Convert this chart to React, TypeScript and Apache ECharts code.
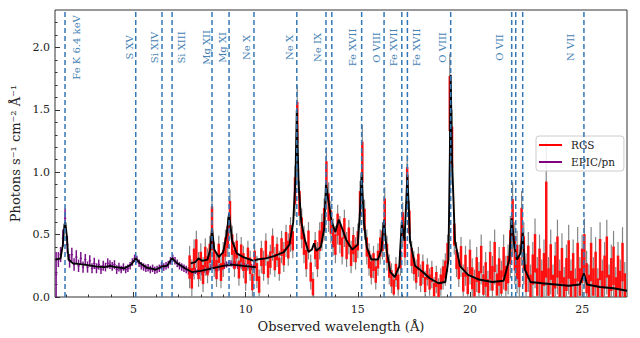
import React, { useEffect, useRef } from 'react';
import * as echarts from 'echarts';

const FONT = "'DejaVu Serif', serif";

// RGS binned spectrum (bin grid start / width in Angstrom)
const rgsStart = 7.5;
const rgsStep = 0.1;
const rgsVal = [
  0.24, 0.15, 0.30, 0.38, 0.22, 0.28, 0.18, 0.32, 0.25, 0.35,
  0.55, 0.30, 0.22, 0.35, 0.20, 0.30, 0.40, 0.48, 0.66, 0.42,
  0.30, 0.38, 0.22, 0.35, 0.28, 0.18, 0.33, 0.25, 0.12, 0.30,
  0.20, 0.10, 0.32, 0.25, 0.38, 0.22, 0.30, 0.42, 0.28, 0.36,
  0.25, 0.40, 0.32, 0.45, 0.38, 0.50, 0.45, 0.85, 1.40, 0.75,
  0.55, 0.42, 0.30, 0.45, 0.20, 0.08, 0.38, 0.30, 0.45, 0.52,
  0.62, 0.95, 0.72, 0.60, 0.48, 0.42, 0.58, 0.50, 0.40, 0.55,
  0.38, 0.48, 0.32, 0.42, 0.35, 0.45, 0.75, 1.08, 0.62, 0.40,
  0.30, 0.22, 0.28, 0.18, 0.30, 0.40, 0.45, 0.68, 0.35, 0.22,
  0.15, 0.08, 0.20, 0.12, 0.30, 0.58, 0.40, 0.92, 0.60, 0.32,
  0.25, 0.18, 0.28, 0.15, 0.22, 0.10, 0.20, 0.12, 0.18, 0.06,
  0.14, 0.05, 0.12, 0.18, 0.22, 0.35, 1.55, 1.20, 0.50, 0.30,
  0.22, 0.32, 0.12, 0.25, 0.10, 0.28, 0.15, 0.08, 0.22, 0.12,
  0.30, 0.10, 0.18, 0.06, 0.25, 0.15, 0.32, 0.10, 0.20, 0.12,
  0.28, 0.15, 0.22, 0.40, 0.62, 0.35, 0.28, 0.20, 0.55, 0.35,
  0.15, 0.28, 0.08, 0.22, 0.35, 0.12, 0.25, 0.10, 0.22, 0.54,
  0.12, 0.28, 0.08, 0.20, 0.32, 0.10, 0.25, 0.06, 0.18, 0.30,
  0.10, 0.22, 0.05, 0.28, 0.12, 0.25, 0.35, 0.15, 0.08, 0.28,
  0.12, 0.22, 0.05, 0.30, 0.10, 0.20, 0.32, 0.08, 0.18, 0.25,
  0.06, 0.20, 0.10, 0.28, 0.08,
];
const rgsErr = [
  0.17, 0.15, 0.16, 0.15, 0.14, 0.15, 0.14, 0.15, 0.14, 0.14,
  0.32, 0.14, 0.14, 0.14, 0.13, 0.14, 0.14, 0.16, 0.20, 0.15,
  0.14, 0.13, 0.13, 0.13, 0.13, 0.13, 0.12, 0.12, 0.12, 0.13,
  0.13, 0.12, 0.13, 0.12, 0.13, 0.12, 0.12, 0.13, 0.12, 0.12,
  0.12, 0.13, 0.12, 0.13, 0.13, 0.14, 0.14, 0.20, 0.30, 0.18,
  0.16, 0.15, 0.14, 0.15, 0.14, 0.12, 0.14, 0.14, 0.15, 0.15,
  0.17, 0.25, 0.20, 0.17, 0.15, 0.15, 0.16, 0.15, 0.14, 0.15,
  0.14, 0.14, 0.13, 0.14, 0.13, 0.14, 0.18, 0.30, 0.16, 0.14,
  0.13, 0.12, 0.13, 0.12, 0.13, 0.14, 0.15, 0.20, 0.14, 0.12,
  0.12, 0.11, 0.12, 0.11, 0.13, 0.18, 0.15, 0.22, 0.17, 0.13,
  0.12, 0.12, 0.12, 0.11, 0.12, 0.11, 0.11, 0.11, 0.11, 0.10,
  0.11, 0.10, 0.11, 0.12, 0.13, 0.15, 0.40, 0.30, 0.16, 0.14,
  0.14, 0.16, 0.14, 0.16, 0.14, 0.18, 0.16, 0.14, 0.18, 0.16,
  0.20, 0.15, 0.18, 0.15, 0.20, 0.18, 0.22, 0.16, 0.20, 0.17,
  0.22, 0.18, 0.20, 0.25, 0.30, 0.25, 0.25, 0.22, 0.30, 0.25,
  0.20, 0.24, 0.18, 0.22, 0.28, 0.20, 0.25, 0.20, 0.24, 0.70,
  0.20, 0.26, 0.18, 0.24, 0.30, 0.20, 0.26, 0.18, 0.24, 0.28,
  0.20, 0.24, 0.18, 0.28, 0.20, 0.25, 0.28, 0.22, 0.18, 0.28,
  0.20, 0.26, 0.18, 0.30, 0.20, 0.24, 0.30, 0.18, 0.24, 0.28,
  0.18, 0.24, 0.20, 0.28, 0.20,
];

// EPIC/pn binned spectrum
const epicStart = 1.55;
const epicStep = 0.1;
const epicVal = [
  0.18, 0.30, 0.34, 0.47, 0.63, 0.42, 0.29, 0.34, 0.26, 0.32,
  0.25, 0.31, 0.24, 0.30, 0.24, 0.29, 0.23, 0.27, 0.23, 0.26,
  0.22, 0.25, 0.24, 0.27, 0.26, 0.245, 0.26, 0.22, 0.24, 0.22,
  0.24, 0.22, 0.23, 0.25, 0.28, 0.31, 0.30, 0.27, 0.25, 0.24,
  0.23, 0.235, 0.22, 0.23, 0.215, 0.22, 0.23, 0.25, 0.24, 0.25,
  0.26, 0.29, 0.31, 0.29, 0.27, 0.25, 0.24, 0.23, 0.22, 0.21,
  0.20, 0.19, 0.21, 0.20, 0.21, 0.20, 0.22, 0.21, 0.22, 0.24,
  0.25, 0.23, 0.23, 0.24, 0.24, 0.25, 0.26, 0.27, 0.27, 0.26,
  0.26, 0.25, 0.26, 0.25, 0.25, 0.24, 0.25, 0.24, 0.24,
];
const epicErr = [
  0.18, 0.06, 0.06, 0.07, 0.08, 0.07, 0.055, 0.055, 0.05, 0.055,
  0.05, 0.05, 0.045, 0.045, 0.045, 0.045, 0.04, 0.045, 0.04, 0.04,
  0.035, 0.04, 0.035, 0.04, 0.035, 0.035, 0.035, 0.035, 0.035, 0.03,
  0.03, 0.03, 0.03, 0.03, 0.03, 0.03, 0.03, 0.03, 0.03, 0.03,
  0.03, 0.03, 0.03, 0.03, 0.03, 0.03, 0.03, 0.03, 0.03, 0.03,
  0.03, 0.03, 0.03, 0.03, 0.03, 0.03, 0.03, 0.03, 0.03, 0.03,
  0.025, 0.025, 0.025, 0.025, 0.025, 0.025, 0.025, 0.025, 0.025, 0.025,
  0.025, 0.025, 0.025, 0.025, 0.025, 0.025, 0.025, 0.025, 0.025, 0.025,
  0.025, 0.025, 0.025, 0.025, 0.025, 0.025, 0.025, 0.025, 0.025,
];

// Best-fit models (black)
const rgsModelX = [
  7.55, 7.75, 7.9, 8.05, 8.3, 8.42, 8.5, 8.6, 8.8, 9.0, 9.15, 9.26, 9.4, 9.6, 9.9, 10.2,
  10.37, 10.5, 10.9, 11.3, 11.7, 11.95, 12.12, 12.22, 12.28, 12.36, 12.48, 12.65, 12.8,
  12.95, 13.05, 13.15, 13.35, 13.5, 13.58, 13.68, 13.84, 14.0, 14.15, 14.3, 14.5, 14.75,
  15.0, 15.1, 15.17, 15.27, 15.4, 15.6, 15.9, 16.05, 16.17, 16.28, 16.45, 16.65, 16.85,
  16.96, 17.08, 17.21, 17.33, 17.55, 17.9, 18.2, 18.6, 18.9, 19.04, 19.1, 19.14, 19.2,
  19.33, 19.55, 19.9, 20.4, 21.0, 21.5, 21.75, 21.86, 21.98, 22.1, 22.25, 22.35, 22.45,
  22.7, 23.2, 23.8, 24.4, 24.9, 25.08, 25.22, 25.8, 26.4, 27.0,
];
const rgsModelY = [
  0.27, 0.28, 0.31, 0.29, 0.30, 0.38, 0.55, 0.38, 0.32, 0.36, 0.50, 0.67, 0.45, 0.35, 0.32, 0.30,
  0.29, 0.30, 0.31, 0.33, 0.36, 0.42, 0.60, 0.95, 1.50, 0.90, 0.60, 0.45, 0.36,
  0.38, 0.43, 0.37, 0.40, 0.55, 0.91, 0.78, 0.60, 0.52, 0.62, 0.55, 0.45, 0.38,
  0.42, 0.70, 1.00, 0.60, 0.40, 0.30, 0.30, 0.38, 0.62, 0.38, 0.20, 0.16, 0.25,
  0.60, 0.45, 0.98, 0.45, 0.25, 0.20, 0.15, 0.11, 0.12, 0.30, 1.10, 1.78, 1.10,
  0.45, 0.25, 0.18, 0.14, 0.12, 0.13, 0.30, 0.63, 0.40, 0.30, 0.35, 0.52, 0.22,
  0.12, 0.11, 0.10, 0.09, 0.10, 0.19, 0.10, 0.08, 0.07, 0.05,
];
const epicModelX = [
  1.52, 1.75, 1.85, 1.92, 1.96, 2.02, 2.1, 2.3, 2.8, 3.3, 3.7, 3.95, 4.2, 4.6, 4.9, 5.1,
  5.3, 5.6, 6.0, 6.27, 6.5, 6.72, 6.95, 7.3, 7.6, 8.0, 8.5, 9.0, 9.4, 9.9, 10.45,
];
const epicModelY = [
  0.30, 0.31, 0.42, 0.58, 0.60, 0.50, 0.30, 0.27, 0.26, 0.245, 0.24, 0.25, 0.24, 0.23, 0.26, 0.31,
  0.27, 0.235, 0.22, 0.245, 0.25, 0.31, 0.27, 0.23, 0.20, 0.21, 0.23, 0.25, 0.26, 0.25, 0.24,
];

// Line identifications
const lineWl = [1.946, 5.10, 6.27, 6.72, 8.50, 9.26, 10.37, 12.28, 13.58, 13.84, 15.17, 16.17, 16.96, 17.21, 19.14, 21.86, 22.04, 22.35, 25.08];
const labelText = ['Fe K 6.4 keV', 'S XV', 'Si XIV', 'Si XIII', 'Mg XII', 'Mg XI', 'Ne X', 'Ne X', 'Ne IX', 'Fe XVII', 'O VIII', 'Fe XVII', 'Fe XVII', 'O VIII', 'O VII', 'N VII'];
const labelWl = [2.45, 4.80, 5.95, 7.12, 8.26, 8.95, 10.03, 11.94, 13.20, 14.78, 15.84, 16.58, 17.63, 18.76, 21.32, 24.48];
const labelY = 2.0;

const xTicks = [5, 10, 15, 20, 25];
const xMinorTicks = [2, 3, 4, 6, 7, 8, 9, 11, 12, 13, 14, 16, 17, 18, 19, 21, 22, 23, 24, 26];
const yTicks = [0, 0.5, 1, 1.5, 2];
const yMinorTicks = [0.1, 0.2, 0.3, 0.4, 0.6, 0.7, 0.8, 0.9, 1.1, 1.2, 1.3, 1.4, 1.6, 1.7, 1.8, 1.9, 2.1, 2.2];

const X_MIN = 1.5, X_MAX = 27, Y_MIN = 0, Y_MAX = 2.3;

const clampY = (y: number) => Math.min(Y_MAX, Math.max(Y_MIN, y));

export default function App() {
  const ref = useRef<HTMLDivElement>(null);
  useEffect(() => {
    if (!ref.current) return;
    const chart = echarts.init(ref.current, undefined, { renderer: 'svg' });

    const rgsData = rgsVal.map((v, i) => [+(rgsStart + i * rgsStep).toFixed(2), v, rgsErr[i]]);
    const epicData = epicVal.map((v, i) => [+(epicStart + i * epicStep).toFixed(2), v, epicErr[i]]);

    const errRender = (stroke: string, width: number, frac: number, halfBin: number) => (params: any, api: any) => {
      const x = api.value(0), v = api.value(1), e = api.value(2) * frac;
      const p1 = api.coord([x, clampY(v - e)]);
      const p2 = api.coord([x, clampY(v + e)]);
      const children: any[] = [
        { type: 'line', shape: { x1: p1[0], y1: p1[1], x2: p2[0], y2: p2[1] }, style: { stroke, lineWidth: width } },
      ];
      if (halfBin > 0) {
        const a = api.coord([x - halfBin, clampY(v)]);
        const b = api.coord([x + halfBin, clampY(v)]);
        children.push({ type: 'line', shape: { x1: a[0], y1: a[1], x2: b[0], y2: b[1] }, style: { stroke, lineWidth: 1.3 } });
      }
      return { type: 'group', children };
    };

    const option: any = {
      animation: false,
      grid: { left: 55, right: 13, top: 10, bottom: 41, show: true, borderColor: '#333', borderWidth: 1, backgroundColor: 'transparent' },
      legend: {
        orient: 'vertical', left: 536, top: 136,
        padding: [2, 9, 2, 3], itemGap: 3, itemWidth: 23, itemHeight: 2,
        borderColor: '#cccccc', borderWidth: 1, borderRadius: 3, backgroundColor: 'rgba(255,255,255,0.85)',
        textStyle: { fontFamily: FONT, fontSize: 10.5, color: '#222', lineHeight: 14, padding: [0, 0, 0, 4] },
        data: [
          { name: 'RGS', icon: 'rect', itemStyle: { color: '#ff0000' } },
          { name: 'EPIC/pn', icon: 'rect', itemStyle: { color: '#800080' } },
        ],
      },
      xAxis: [
        {
          type: 'value', min: X_MIN, max: X_MAX,
          name: 'Observed wavelength (Å)', nameLocation: 'middle', nameGap: 20,
          nameTextStyle: { fontFamily: FONT, fontSize: 13, color: '#222' },
          axisLine: { show: false }, splitLine: { show: false },
          axisTick: { inside: true, length: 5, customValues: xTicks, lineStyle: { color: '#333' } },
          axisLabel: { customValues: xTicks, fontFamily: FONT, fontSize: 11, color: '#222', margin: 7 },
        },
        {
          type: 'value', min: X_MIN, max: X_MAX, position: 'bottom',
          axisLine: { show: false }, splitLine: { show: false }, axisLabel: { show: false },
          axisTick: { inside: true, length: 2.5, customValues: xMinorTicks, lineStyle: { color: '#333' } },
        },
      ],
      yAxis: [
        {
          type: 'value', min: Y_MIN, max: Y_MAX,
          name: 'Photons s⁻¹ cm⁻² Å⁻¹', nameLocation: 'middle', nameGap: 28,
          nameTextStyle: { fontFamily: FONT, fontSize: 13, color: '#222' },
          axisLine: { show: false }, splitLine: { show: false },
          axisTick: { inside: true, length: 5, customValues: yTicks, lineStyle: { color: '#333' } },
          axisLabel: { customValues: yTicks, fontFamily: FONT, fontSize: 11, color: '#222', margin: 5, formatter: (v: number) => v.toFixed(1) },
        },
        {
          type: 'value', min: Y_MIN, max: Y_MAX, position: 'left',
          axisLine: { show: false }, splitLine: { show: false }, axisLabel: { show: false },
          axisTick: { inside: true, length: 2.5, customValues: yMinorTicks, lineStyle: { color: '#333' } },
        },
      ],
      series: [
        {
          name: 'EPIC/pn', type: 'custom', z: 2, itemStyle: { color: '#800080' },
          renderItem: errRender('#7a1289', 1.5, 1, 0.05),
          encode: { x: 0, y: 1 }, data: epicData,
        },
        {
          name: 'RGS err', type: 'custom', z: 3, itemStyle: { color: '#888' },
          renderItem: errRender('#858585', 1.2, 1, 0),
          encode: { x: 0, y: 1 }, data: rgsData,
        },
        {
          name: 'RGS', type: 'custom', z: 4, itemStyle: { color: '#ff0000' },
          renderItem: errRender('#ff1010', 2.5, 0.55, 0),
          encode: { x: 0, y: 1 }, data: rgsData,
        },
        {
          name: 'EPIC model', type: 'line', z: 5, showSymbol: false, symbol: 'none',
          lineStyle: { color: '#000', width: 1.8 },
          data: epicModelX.map((x, i) => [x, epicModelY[i]]),
        },
        {
          name: 'RGS model', type: 'line', z: 5, showSymbol: false, symbol: 'none',
          lineStyle: { color: '#000', width: 1.9 },
          data: rgsModelX.map((x, i) => [x, rgsModelY[i]]),
        },
        {
          name: 'lines', type: 'custom', z: 6,
          renderItem: (params: any, api: any) => {
            const x = api.value(0);
            const a = api.coord([x, Y_MIN]);
            const b = api.coord([x, Y_MAX]);
            return { type: 'line', shape: { x1: a[0], y1: a[1], x2: b[0], y2: b[1] }, style: { stroke: '#3578b6', lineWidth: 1.5, lineDash: [5, 3] } };
          },
          encode: { x: 0, y: 1 }, data: lineWl.map((w) => [w, 0]),
        },
        {
          name: 'labels', type: 'custom', z: 7,
          renderItem: (params: any, api: any) => {
            const p = api.coord([api.value(0), api.value(1)]);
            return {
              type: 'text', x: p[0], y: p[1], rotation: Math.PI / 2,
              style: { text: labelText[params.dataIndex], fill: '#4682b4', fontFamily: FONT, fontSize: 10, align: 'center', verticalAlign: 'middle' },
            };
          },
          encode: { x: 0, y: 1 }, data: labelWl.map((w) => [w, labelY]),
        },
      ],
    };
    chart.setOption(option);
    return () => chart.dispose();
  }, []);
  return <div ref={ref} style={{ position: 'absolute', left: 0, top: 0, width: 640, height: 338 }} />;
}
